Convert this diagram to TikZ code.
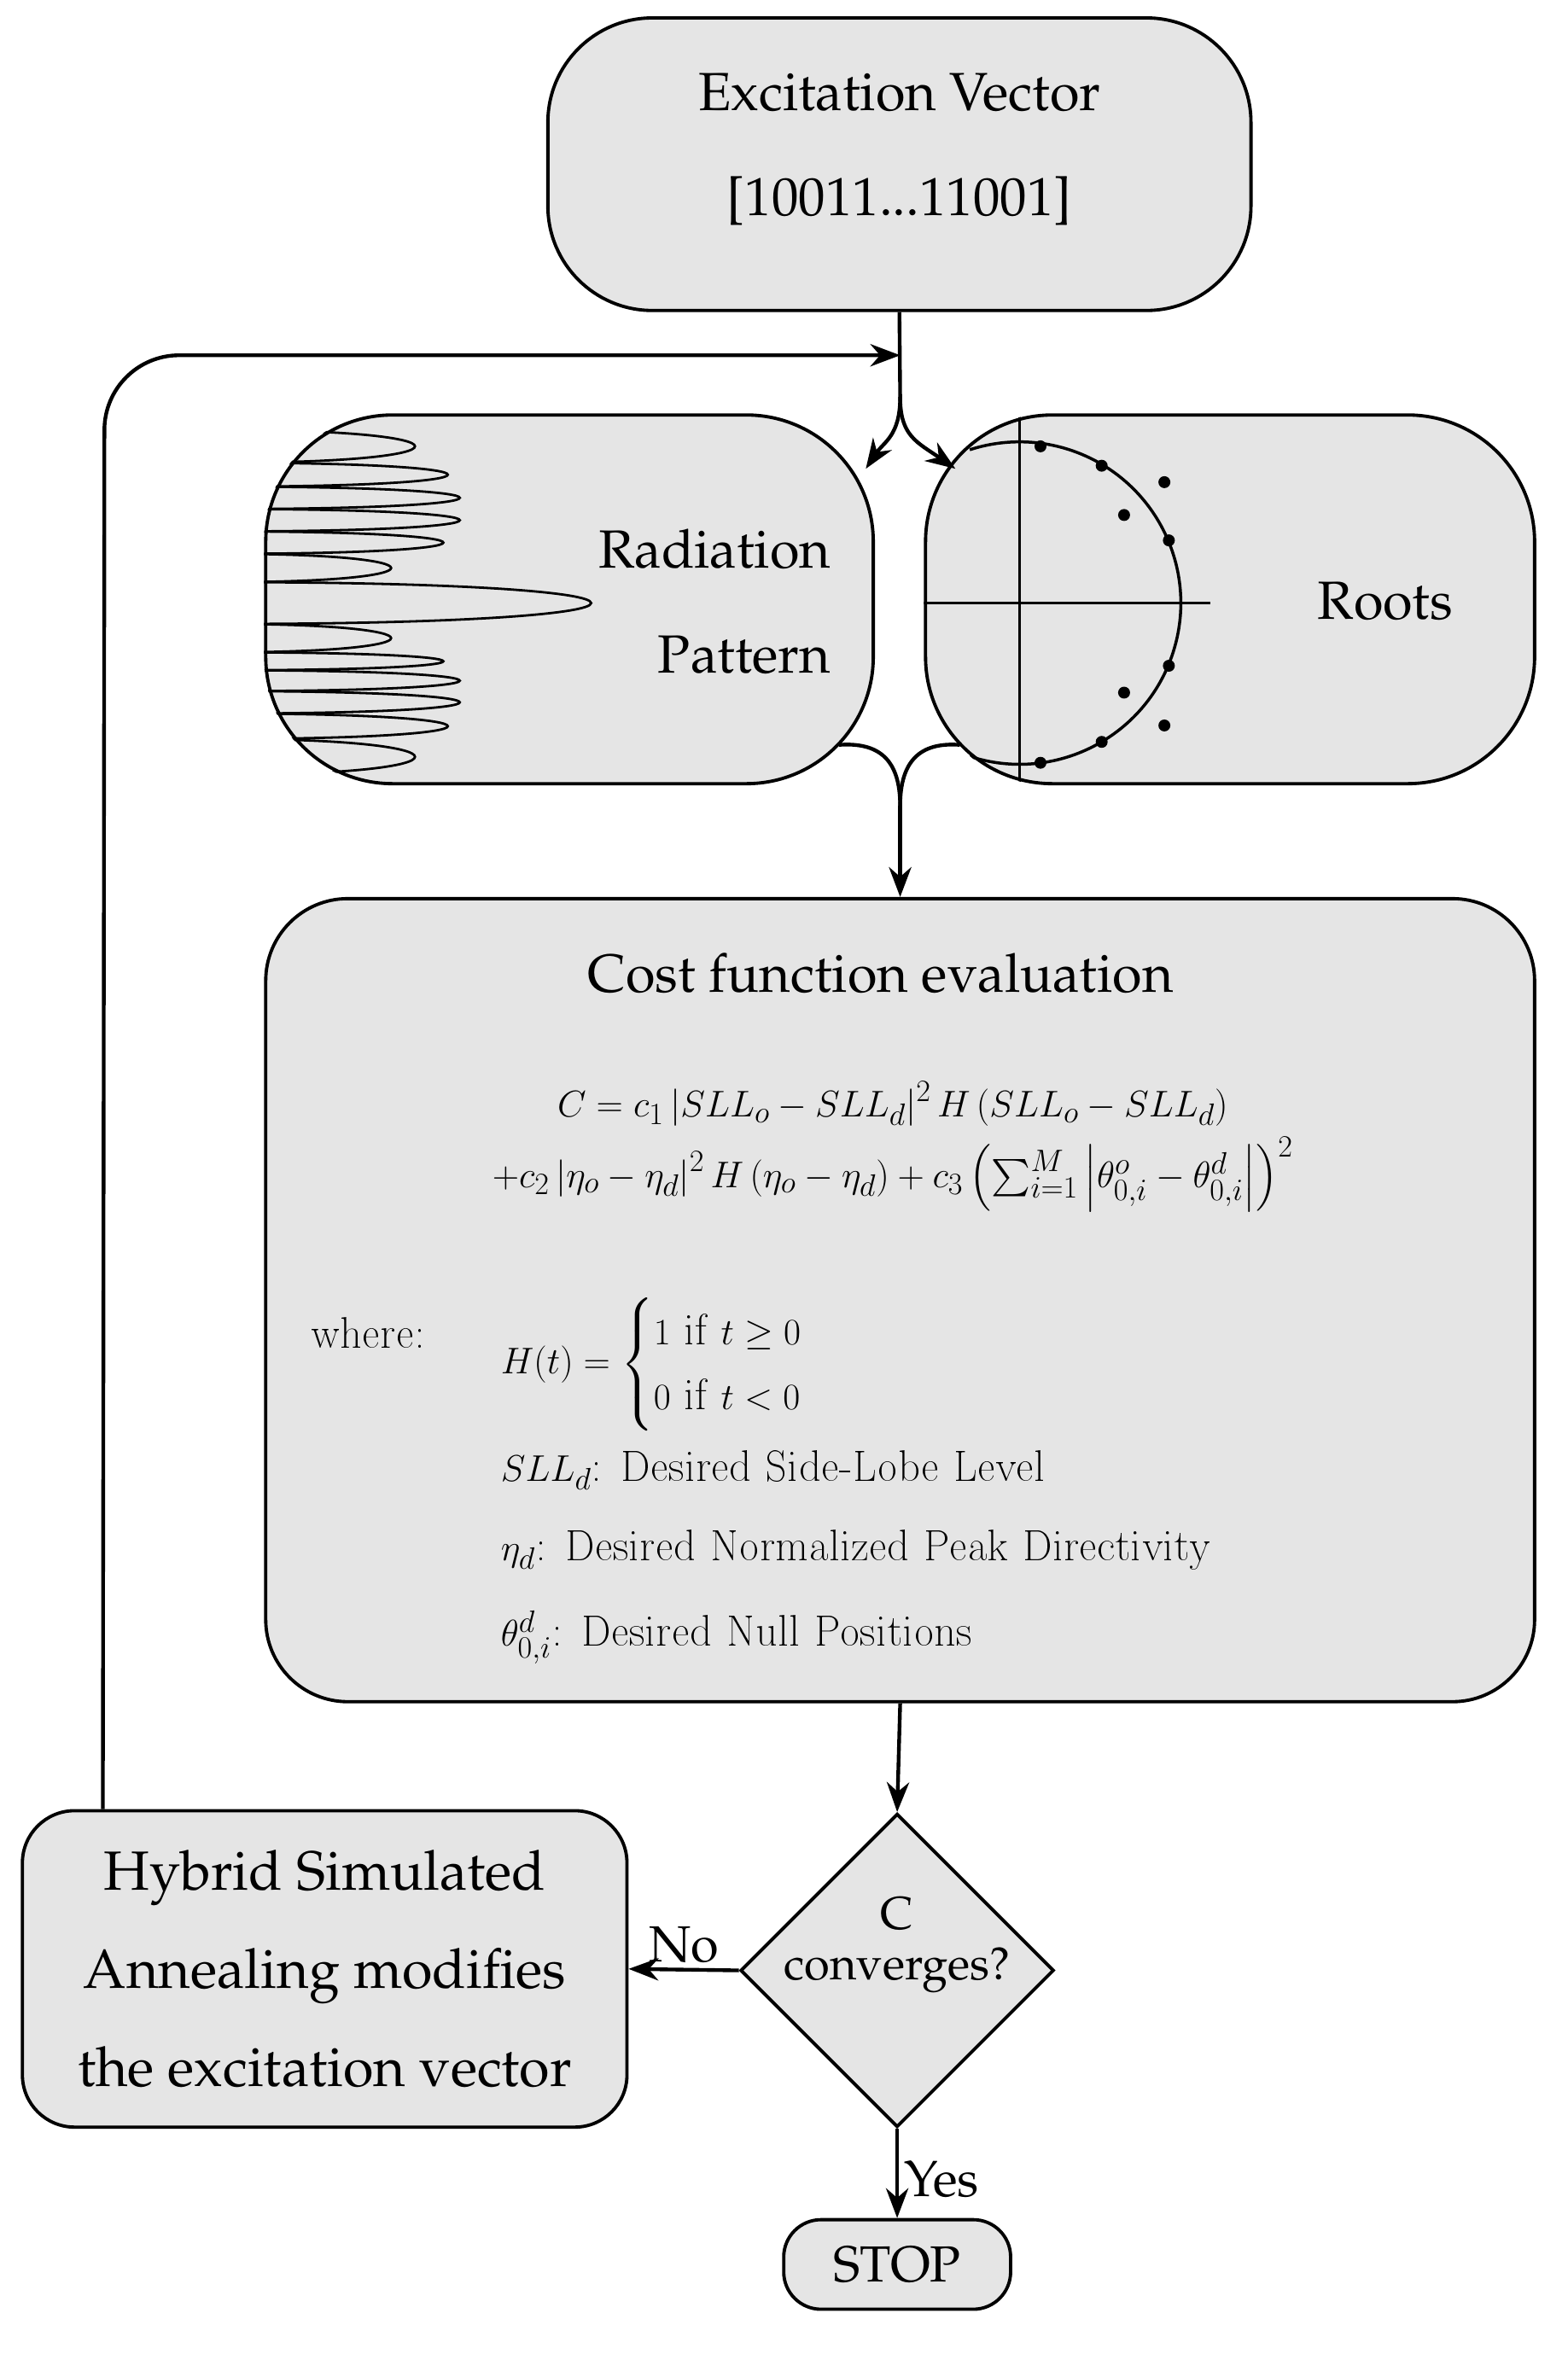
\documentclass[tikz,border=0pt]{standalone}
\usepackage[T1]{fontenc}
\renewcommand{\rmdefault}{ppl}
\usepackage{amsmath}
\usetikzlibrary{shapes.geometric,arrows.meta}
\begin{document}
\begin{tikzpicture}[x=1pt,y=-1pt,
  box/.style={draw,line width=2.2pt,fill=black!10,inner sep=0pt},
  arr/.style={line width=2.5pt,-{Stealth[length=20pt,width=15pt]}},
  ln/.style={line width=2.5pt},
  bigtxt/.style={font=\fontsize{36}{70}\selectfont},
  cmtxt/.style={font=\fontfamily{lmr}\fontsize{29}{36}\selectfont},
  dot/.style={circle,fill=black,inner sep=0pt,minimum size=8pt}]
\useasboundingbox (0,0) rectangle (1050,1577);
% boxes
\node[box,rounded corners=70pt,minimum width=471pt,minimum height=196pt] (exc) at (602.5,110) {};
\node[bigtxt,align=center] (exct) at (602.5,100) {Excitation Vector\\{}[10011...11001]};
\node[box,rounded corners=85pt,minimum width=407pt,minimum height=247pt] (rad) at (381.5,401.5) {};
\node[box,rounded corners=85pt,minimum width=408pt,minimum height=247pt] (roo) at (824,401.5) {};
\node[box,rounded corners=55pt,minimum width=850pt,minimum height=538pt] (cost) at (603,871) {};
\node[box,diamond,aspect=1,minimum width=210pt,minimum height=210pt] (dia) at (601,1320) {};
\node[box,rounded corners=35pt,minimum width=405pt,minimum height=212pt] (hyb) at (217.5,1319) {};
\node[box,rounded corners=25pt,minimum width=152pt,minimum height=60pt] (stop) at (601,1517) {};
% radiation pattern
\begin{scope}
\clip[rounded corners=85pt] (rad.south west) rectangle (rad.north east);
\foreach \ya/\yb/\t in {288/310/278, 310/326/300, 326/341/308, 341/356/308, 356/371/297, 371/390/262, 390/418/396, 418/437/262, 437/449/297, 449/463/308, 463/478/308, 478/495/300, 495/519/278}{
  \draw[line width=1.6pt] (150,\ya) .. controls ({150+(\t-150)*4/3},\ya) and ({150+(\t-150)*4/3},\yb) .. (150,\yb);
}
\end{scope}
\node[bigtxt,align=right,anchor=east] (radt) at (560,403) {Radiation\\Pattern};
% roots
\begin{scope}
\clip[rounded corners=85pt] (roo.south west) rectangle (roo.north east);
\draw[line width=2pt] (683,270) -- (683,540);
\draw[line width=2pt] (600,404) -- (811,404);
\draw[line width=2pt] (683,404) ++(108:108) arc[start angle=108,end angle=-108,radius=108];
\end{scope}
\foreach \p in {(697,299),(738,312),(783,362),(783,446),(738,497),(697,511),(780,323),(753,345),(753,464),(780,486)}
  \node[dot] at \p {};
\node[bigtxt] (root) at (928,403) {Roots};
% cost text
\node[font=\fontsize{36}{44}\selectfont] (ct) at (590,652) {Cost function evaluation};
\node[cmtxt,align=center] (eq) at (598,768) {$C=c_1\left|SLL_o-SLL_d\right|^2H\left(SLL_o-SLL_d\right)$\\[6pt]
 $+c_2\left|\eta_o-\eta_d\right|^2H\left(\eta_o-\eta_d\right)+c_3\left(\sum_{i=1}^{M}\left|\theta^o_{0,i}-\theta^d_{0,i}\right|\right)^2$};
\node[cmtxt,anchor=west] (wh) at (205,893) {where:};
\node[cmtxt,anchor=west] (ht) at (332,914) {$H(t)=\begin{cases}1\text{ if }t\geq 0\\0\text{ if }t<0\end{cases}$};
\node[cmtxt,anchor=west] (l1) at (332,985) {$SLL_d$: Desired Side-Lobe Level};
\node[cmtxt,anchor=west] (l2) at (332,1038) {$\eta_d$: Desired Normalized Peak Directivity};
\node[cmtxt,anchor=west] (l3) at (332,1097) {$\theta^d_{0,i}$: Desired Null Positions};
% other texts
\node[font=\fontsize{31}{34}\selectfont,align=center] (dt) at (601,1303) {C\\converges?};
\node[font=\fontsize{37}{66}\selectfont,align=center] (ht2) at (217.5,1319) {Hybrid Simulated\\Annealing modifies\\the excitation vector};
\node[font=\fontsize{34}{40}\selectfont] (st) at (601,1517) {STOP};
% connectors
\coordinate (j) at (603,238);
\coordinate (s) at (603,266);
\draw[ln] (exc.south) -- (s);
\draw[arr] (s) .. controls (603,292) and (592,296) .. (580,314);
\draw[arr] (s) .. controls (603,292) and (614,296) .. (640,314);
\draw[arr,rounded corners=50pt] ([xshift=55pt]hyb.north west) -- (70,238) -- (j);
\coordinate (m) at (603,540);
\draw[ln] (562,499) .. controls (590,497) and (603,510) .. (m);
\draw[ln] (643,499) .. controls (616,497) and (603,510) .. (m);
\draw[arr] (m) -- (cost.north);
\draw[arr] (cost.south) -- (dia.north);
\draw[arr] (dia.west) -- node[above,font=\fontsize{34}{40}\selectfont] (no) {No} (hyb.east);
\draw[arr] (dia.south) -- node[right,font=\fontsize{34}{40}\selectfont,yshift=-4pt] (yes) {Yes} (stop.north);
\end{tikzpicture}
\end{document}
